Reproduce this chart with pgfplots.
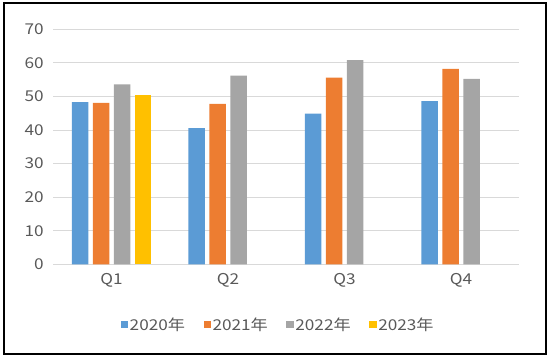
\documentclass[border=0pt]{standalone}
\usepackage{pgfplots}
\pgfplotsset{compat=1.18}
\usepackage{fontspec}
\setmainfont{Noto Sans CJK SC}[FakeStretch=1.15]
\definecolor{cA}{HTML}{5B9BD5}
\definecolor{cB}{HTML}{ED7D31}
\definecolor{cC}{HTML}{A5A5A5}
\definecolor{cD}{HTML}{FFC000}
\definecolor{txt}{HTML}{595959}
\definecolor{grd}{HTML}{D9D9D9}
\begin{document}
\begin{tikzpicture}[x=1bp,y=1bp]
\begin{axis}[
  at={(0,0)}, anchor=south west,
  scale only axis, width=466bp, height=235bp,
  ybar=4.5bp, bar width=16.5bp,
  xmin=-0.5, xmax=3.5, ymin=0, ymax=70,
  xtick=data, xticklabels={Q1,Q2,Q3,Q4},
  ytick={0,10,...,70},
  ymajorgrids, grid style={grd, line width=1pt},
  axis line style={draw=none},
  axis x line*=bottom, axis y line*=left,
  x axis line style={draw=grd, line width=1pt},
  major tick length=0pt,
  tick label style={font=\fontsize{15}{17}\selectfont, text=txt},
  /pgf/number format/assume math mode=true,
  yticklabel style={xshift=-6bp},
  xticklabel style={yshift=-6bp},
  legend columns=4,
  legend style={draw=none, fill=none, at={(0.482,-0.258)}, anchor=center,
    font=\fontsize{15}{17}\selectfont, text=txt,
    /tikz/every even column/.append style={column sep=17bp},
    nodes={inner sep=1.5bp}},
  legend image code/.code={\fill[#1] (0bp,-3.5bp) rectangle (7.5bp,4bp);},
]
\addplot[fill=cA, draw=none] coordinates {(0,48.3) (1,40.6) (2,44.9) (3,48.6)};
\addplot[fill=cB, draw=none] coordinates {(0,48.1) (1,47.8) (2,55.6) (3,58.2)};
\addplot[fill=cC, draw=none] coordinates {(0,53.6) (1,56.2) (2,60.8) (3,55.2)};
\addplot[fill=cD, draw=none] coordinates {(0,50.4)};
\legend{2020年,2021年,2022年,2023年}
\end{axis}
\draw[black, line width=2bp] (-49.3,-89.7) rectangle (492.7,261.3);
\pgfresetboundingbox
\path[use as bounding box] (-53.3,-95.7) rectangle (496.7,264.3);
\end{tikzpicture}
\end{document}
